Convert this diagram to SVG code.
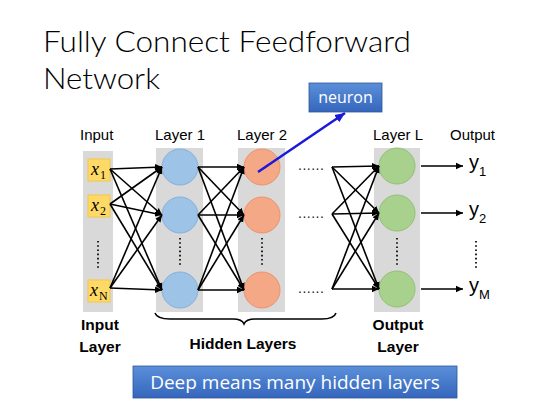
<svg xmlns="http://www.w3.org/2000/svg" width="554" height="414" viewBox="0 0 554 414">
<defs>
<marker id="ah" markerWidth="8" markerHeight="8" refX="7" refY="4" orient="auto" markerUnits="userSpaceOnUse"><path d="M0,0.8 L7,4 L0,7.2 z" fill="#000"/></marker>
<marker id="bh" markerWidth="12" markerHeight="12" refX="10" refY="6" orient="auto" markerUnits="userSpaceOnUse"><path d="M0,1.5 L10,6 L0,10.5 z" fill="#1a1ad8"/></marker>
<linearGradient id="bg" x1="0" y1="0" x2="0" y2="1"><stop offset="0" stop-color="#5b8fd9"/><stop offset="1" stop-color="#3566bd"/></linearGradient>
</defs>
<style>
.t{font-family:"Liberation Sans",Arial,sans-serif;fill:#000}
.lab{font-size:15px}
.bold{font-size:15.5px;font-weight:bold;text-anchor:middle}
.col{fill:#d9d9d9}
.inbox{fill:#ffd966;stroke:#f2c84b;stroke-width:1}
.xv{font-family:"Liberation Serif","Times New Roman",serif;font-style:italic;font-size:18px}
.xs{font-family:"Liberation Serif","Times New Roman",serif;font-size:12px}
.c1{fill:#9dc3e6;stroke:#86b0dc;stroke-width:1}
.c2{fill:#f4a886;stroke:#eb9270;stroke-width:1}
.c3{fill:#a9d18e;stroke:#92c075;stroke-width:1}
.ln{stroke:#000;stroke-width:1.6;fill:none;marker-end:url(#ah)}
.vd{stroke:#222;stroke-width:2;stroke-dasharray:1.6 2.6;fill:none}
.hd{font-family:"Liberation Sans",Arial,sans-serif;font-size:14px;fill:#222;letter-spacing:0.5px}
.btxt{font-family:"Open Sans","Liberation Sans",sans-serif;fill:#fff;text-anchor:middle}
.title{font-family:Lato,"Open Sans","Liberation Sans",sans-serif;font-weight:300;font-size:30px;fill:#000}
</style>
<rect width="554" height="414" fill="#fff"/>
<g id="title">
<text class="title" x="43" y="52" textLength="368" lengthAdjust="spacingAndGlyphs">Fully Connect Feedforward</text>
<text class="title" x="43" y="89" textLength="117" lengthAdjust="spacingAndGlyphs">Network</text>
</g>

<g id="column-labels">
<text class="t lab" x="80" y="140">Input</text>
<text class="t lab" x="155" y="140">Layer 1</text>
<text class="t lab" x="237" y="140">Layer 2</text>
<text class="t lab" x="373" y="140">Layer L</text>
<text class="t lab" x="450" y="140">Output</text>
</g>

<g id="input-layer">
<rect class="col" x="83" y="151" width="30" height="161"/>
<rect class="inbox" x="88" y="159" width="22" height="22"/>
<text class="xv" x="91" y="175">x</text><text class="xs" x="100" y="179">1</text>
<rect class="inbox" x="88" y="195" width="22" height="22"/>
<text class="xv" x="91" y="211">x</text><text class="xs" x="100" y="215">2</text>
<path class="vd" d="M98,241 V268"/>
<rect class="inbox" x="88" y="280" width="22" height="22"/>
<text class="xv" x="90" y="296">x</text><text class="xs" x="99" y="300">N</text>
</g>

<g id="layer-1">
<rect class="col" x="156" y="148" width="47" height="164"/>
<circle class="c1" cx="180" cy="167" r="18"/>
<circle class="c1" cx="180" cy="215" r="18"/>
<path class="vd" d="M180,238 V266"/>
<circle class="c1" cx="180" cy="290" r="18"/>
</g>

<g id="layer-2">
<rect class="col" x="238" y="148" width="47" height="164"/>
<circle class="c2" cx="262" cy="167" r="18"/>
<circle class="c2" cx="262" cy="215" r="18"/>
<path class="vd" d="M262,238 V266"/>
<circle class="c2" cx="262" cy="290" r="18"/>
</g>

<g id="gap-dots">
<text class="hd" x="298" y="170">......</text>
<text class="hd" x="298" y="218">......</text>
<text class="hd" x="298" y="293">......</text>
</g>

<g id="layer-L">
<rect class="col" x="374" y="148" width="46" height="164"/>
<circle class="c3" cx="397" cy="166" r="18"/>
<circle class="c3" cx="397" cy="213" r="18"/>
<path class="vd" d="M397,238 V266"/>
<circle class="c3" cx="397" cy="289" r="18"/>
</g>

<g id="outputs">
<text class="t" x="469" y="169" font-size="20">y</text><text class="t" x="479" y="176" font-size="13">1</text>
<text class="t" x="469" y="216" font-size="20">y</text><text class="t" x="479" y="223" font-size="13">2</text>
<path class="vd" d="M476,241 V268"/>
<text class="t" x="469" y="292" font-size="20">y</text><text class="t" x="479" y="299" font-size="13">M</text>
</g>

<g id="connectors">
<path class="ln" d="M110,169 L162,167"/><path class="ln" d="M110,169 L162,215"/><path class="ln" d="M110,169 L162,290"/>
<path class="ln" d="M110,204 L162,167"/><path class="ln" d="M110,204 L162,215"/><path class="ln" d="M110,204 L162,290"/>
<path class="ln" d="M110,288 L162,167"/><path class="ln" d="M110,288 L162,215"/><path class="ln" d="M110,288 L162,290"/>
<path class="ln" d="M198,167 L244,167"/><path class="ln" d="M198,167 L244,215"/><path class="ln" d="M198,167 L244,290"/>
<path class="ln" d="M198,215 L244,167"/><path class="ln" d="M198,215 L244,215"/><path class="ln" d="M198,215 L244,290"/>
<path class="ln" d="M198,290 L244,167"/><path class="ln" d="M198,290 L244,215"/><path class="ln" d="M198,290 L244,290"/>
<path class="ln" d="M332,167 L379,166"/><path class="ln" d="M332,167 L379,213"/><path class="ln" d="M332,167 L379,289"/>
<path class="ln" d="M332,214 L379,166"/><path class="ln" d="M332,214 L379,213"/><path class="ln" d="M332,214 L379,289"/>
<path class="ln" d="M332,289 L379,166"/><path class="ln" d="M332,289 L379,213"/><path class="ln" d="M332,289 L379,289"/>
<path class="ln" d="M421,166 L463,166"/><path class="ln" d="M421,213 L463,213"/><path class="ln" d="M421,289 L463,289"/>
<path d="M258,172 L345,113" stroke="#1a1ad8" stroke-width="2.5" fill="none" marker-end="url(#bh)"/>
</g>

<g id="neuron">
<rect x="309" y="83" width="73" height="29" fill="url(#bg)" stroke="#2f5597" stroke-width="0.8"/>
<text class="btxt" x="345.5" y="103" font-size="16">neuron</text>
</g>

<g id="brace">
<path d="M155,313 Q157,319 170,319 L233,319 Q242,319 244,324 Q246,319 255,319 L322,319 Q334,319 336,313" stroke="#000" stroke-width="1.5" fill="none"/>
</g>

<g id="bottom-labels">
<text class="t bold" x="100" y="330">Input</text>
<text class="t bold" x="100" y="352">Layer</text>
<text class="t bold" x="243" y="349">Hidden Layers</text>
<text class="t bold" x="398" y="330">Output</text>
<text class="t bold" x="398" y="352">Layer</text>
</g>

<g id="deep-banner">
<rect x="133" y="366" width="324" height="32" fill="url(#bg)" stroke="#2f5597" stroke-width="0.8"/>
<text class="btxt" x="295" y="389" font-size="19">Deep means many hidden layers</text>
</g>
</svg>
